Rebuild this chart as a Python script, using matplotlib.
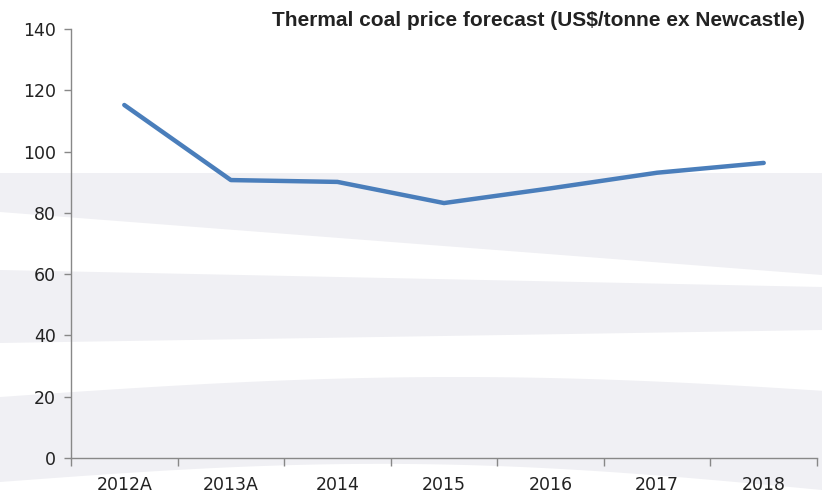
import matplotlib.pyplot as plt
import numpy as np

years = ['2012A', '2013A', '2014', '2015', '2016', '2017', '2018']
price = [115.2, 90.7, 90.1, 83.2, 88.0, 93.1, 96.3]
yticks = [0, 20, 40, 60, 80, 100, 120, 140]

W, H = 822, 495
fig = plt.figure(figsize=(W / 100, H / 100), dpi=100)

# decorative grey bands behind the chart (pixel coords, y down)
bg = fig.add_axes([0, 0, 1, 1], zorder=0)
bg.set_xlim(0, W)
bg.set_ylim(H, 0)
bg.axis('off')
px = np.linspace(0, W, 60)
t = px / W
band_col = '#f0f0f4'
bg.fill_between(px, 173, 212 + 63 * t, color=band_col, lw=0)
bg.fill_between(px, 270 + 17 * t, 343 - 13 * t, color=band_col, lw=0)
top3 = 397 - 20 * np.sin(np.pi * t * 0.9)
bot3 = 482 - 22 * np.sin(np.pi * t) + 8 * t
bg.fill_between(px, top3, bot3, color=band_col, lw=0)

ax = fig.add_axes([71 / W, 1 - 458 / H, 746 / W, 429 / H], zorder=1)
ax.patch.set_alpha(0)
x = np.arange(len(years))
ax.plot(x, price, color='#4a7ebb', lw=3.2, solid_capstyle='round', solid_joinstyle='round')

ax.set_xlim(-0.5, len(years) - 0.5)
ax.set_ylim(0, 140)
ax.set_yticks(yticks)
ax.set_xticks(x)
ax.set_xticklabels(years)
ax.set_xticks(np.arange(-0.5, len(years)), minor=True)
ax.tick_params(axis='x', which='major', length=0, pad=13)
ax.tick_params(axis='x', which='minor', length=6, color='#888888', width=1)
ax.tick_params(axis='y', length=5, color='#888888', width=1, pad=6)
for lab in ax.get_xticklabels() + ax.get_yticklabels():
    lab.set_fontsize(12.5)
    lab.set_color('#222222')

for s in ['top', 'right']:
    ax.spines[s].set_visible(False)
for s in ['left', 'bottom']:
    ax.spines[s].set_color('#888888')
    ax.spines[s].set_linewidth(1)

fig.text(805 / W, 1 - 21 / H, 'Thermal coal price forecast (US$/tonne ex Newcastle)',
         ha='right', va='center', fontsize=15, fontweight='bold',
         family=['Liberation Sans', 'DejaVu Sans'], color='#222222')

fig.savefig('out.png', dpi=100)
